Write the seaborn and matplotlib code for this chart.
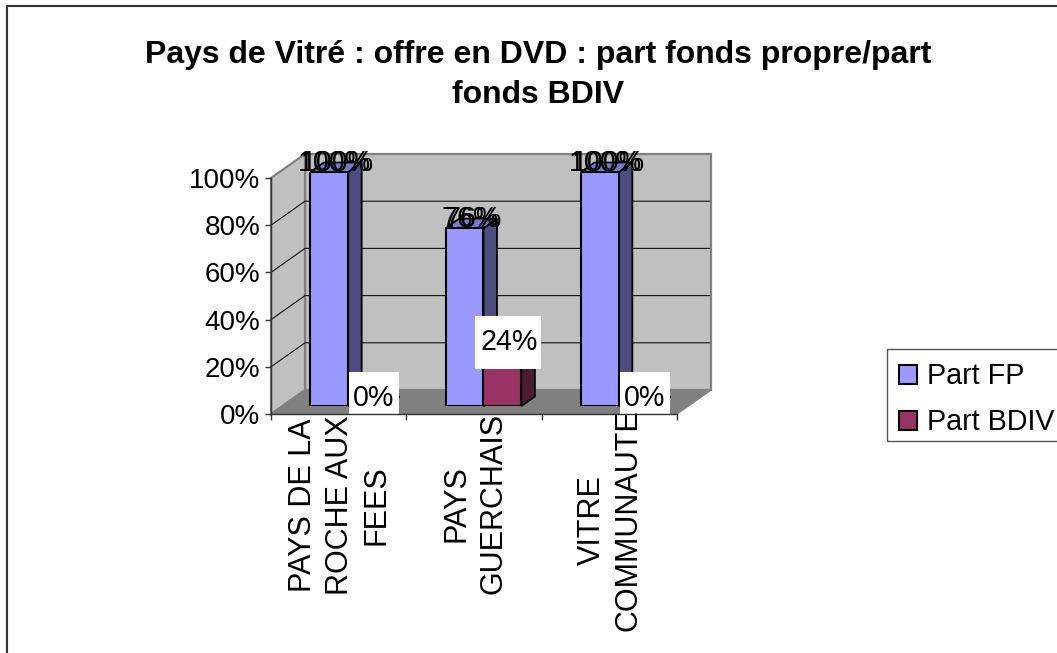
import matplotlib
matplotlib.use("Agg")
import matplotlib.pyplot as plt
import pandas as pd
import seaborn as sns
from matplotlib.lines import Line2D
from matplotlib.patches import Polygon, Rectangle
from matplotlib.transforms import IdentityTransform

# ---- data ----
territoires = ["PAYS DE LA\nROCHE AUX\nFEES", "PAYS\nGUERCHAIS", "VITRE\nCOMMUNAUTE"]
part_fp = [100, 76, 100]
part_bdiv = [0, 24, 0]
series_names = ["Part FP", "Part BDIV"]
y_ticks = [0, 20, 40, 60, 80, 100]
y_tick_labels = ["0%", "20%", "40%", "60%", "80%", "100%"]
title_text = "Pays de Vitré : offre en DVD : part fonds propre/part\nfonds BDIV"

# ---- style ----
W, H = 1057, 653
FP, BD = "#9999FF", "#993366"
SIDE = {FP: "#4D4D80", BD: "#4D1A33"}
TOP = {FP: "#7A7ACC", BD: "#7A2952"}

sns.set_theme(style="white")
plt.rcParams["font.family"] = ["Liberation Sans", "DejaVu Sans"]
fig = plt.figure(figsize=(W / 100, H / 100), dpi=100, facecolor="white")


def box(x0, y_top, x1, y_bot):
    return [x0 / W, 1 - y_bot / H, (x1 - x0) / W, (y_bot - y_top) / H]


pos = box(271, 178, 677, 414)
ax_wall = fig.add_axes(pos, zorder=1)
ax_bars = fig.add_axes(box(280.5, 172, 686.5, 406), zorder=2)
ax = fig.add_axes(pos, zorder=3)

# ---- walls and floor ----
xlim = (-0.5, 2.5)
ylim = (0, 100)
DX = 34 / (406 / 3)
DY = 24 / 2.36
x0, x1 = xlim
ax_wall.set(xlim=xlim, ylim=ylim)
ax_wall.axis("off")
wall_edge = "#808080"
ax_wall.add_patch(Polygon([(x0 + DX, DY), (x1 + DX, DY), (x1 + DX, 100 + DY), (x0 + DX, 100 + DY)],
                          fc="#C0C0C0", ec=wall_edge, lw=1.6, clip_on=False, zorder=1))
ax_wall.add_patch(Polygon([(x0, 0), (x0 + DX, DY), (x0 + DX, 100 + DY), (x0, 100)],
                          fc="#C0C0C0", ec=wall_edge, lw=1.6, clip_on=False, zorder=1))
ax_wall.add_patch(Polygon([(x0, 0), (x1, 0), (x1 + DX, DY), (x0 + DX, DY)],
                          fc="#808080", ec=wall_edge, lw=1, clip_on=False, zorder=1.1))
for v in y_ticks[1:-1]:
    ax_wall.plot([x0, x0 + DX, x1 + DX - 0.01], [v, v + DY, v + DY], color="#111111", lw=0.8,
                 clip_on=False, zorder=2)

# ---- bars ----
df = pd.DataFrame({
    "territoire": territoires * 2,
    "serie": [series_names[0]] * 3 + [series_names[1]] * 3,
    "part": part_fp + part_bdiv,
})
sns.barplot(data=df, x="territoire", y="part", hue="serie", order=territoires,
            hue_order=series_names, palette=[FP, BD], width=0.56, gap=0, dodge=True,
            saturation=1, edgecolor="black", linewidth=1.5, ax=ax_bars, legend=True)
ax_bars.set(xlim=xlim, ylim=ylim)
handles, labels = ax_bars.get_legend_handles_labels()
ax_bars.get_legend().remove()
ax_bars.axis("off")

BDX = 13.5 / (406 / 3)
BDY = 9.5 / 2.34
for cont, color in zip(ax_bars.containers, [FP, BD]):
    for bar in cont:
        bx, bw, bh = bar.get_x(), bar.get_width(), bar.get_height()
        xr = bx + bw
        ax_bars.add_patch(Polygon([(xr, 0), (xr + BDX, BDY), (xr + BDX, bh + BDY), (xr, bh)],
                                  fc=SIDE[color], ec="black", lw=1.3, clip_on=False, zorder=0.8))
        ax_bars.add_patch(Polygon([(bx, bh), (xr, bh), (xr + BDX, bh + BDY), (bx + BDX, bh + BDY)],
                                  fc=TOP[color], ec="black", lw=1.3, clip_on=False, zorder=0.8))

# ---- value labels ----
FS_LABEL = 20.6
for cont, values, boxed in zip(ax_bars.containers, [part_fp, part_bdiv], [False, True]):
    for bar, v in zip(cont, values):
        cx, top = bar.get_x() + bar.get_width() / 2, bar.get_height()
        px, py = ax_bars.transData.transform((cx, top))
        txt = f"{v}%"
        if boxed:
            left, right = (-27, 39) if v else (-18, 32)
            down, up = (19, 34) if v else (8, 34)
            ax_bars.add_patch(Rectangle((px + left, py - down), right - left, up + down, fc="white", ec="none",
                                        transform=IdentityTransform(), clip_on=False, zorder=5))
            ax_bars.annotate(txt, (cx, top), xytext=(6.5, 8), textcoords="offset pixels",
                             ha="center", va="center", fontsize=FS_LABEL, color="black", zorder=6)
        else:
            for shift in (-1.5, 1.5):
                ax_bars.annotate(txt, (cx, top), xytext=(6.7 + shift, 9), textcoords="offset pixels",
                                 ha="center", va="center", fontsize=FS_LABEL, color="black", zorder=6)

# ---- axes on top ----
ax.set_facecolor("none")
ax.set(xlim=xlim, ylim=ylim)
ax.set_xticks([-0.5, 0.5, 1.5, 2.5])
ax.set_xticklabels(["", "", "", ""])
ax.set_yticks(y_ticks)
ax.set_yticklabels(y_tick_labels, fontsize=20, color="black")
ax.tick_params(axis="y", left=True, length=4, width=1, color="#333333", pad=3.5)
ax.tick_params(axis="x", bottom=True, length=4.5, width=1, color="#333333")
for name, sp in ax.spines.items():
    sp.set_visible(name in ("left", "bottom"))
    sp.set_color("#333333")
    sp.set_linewidth(1)
for i, lab in enumerate(territoires):
    ax.annotate(lab, (i, 0), xytext=(1, -[1, -1, -5][i]), textcoords="offset pixels",
                ha="center", va="top", rotation=90, rotation_mode="default", multialignment="center",
                fontsize=22, linespacing=1.3, color="black", annotation_clip=False)

# ---- title, legend, frame ----
fig.suptitle(title_text, x=538.5 / W, y=1 - 40 / H, va="top", ha="center",
             fontsize=23, fontweight="bold", linespacing=1.44, color="black")
fig.add_artist(Rectangle((887 / W, 1 - 441 / H), 180 / W, 92 / H, transform=fig.transFigure,
                         fc="white", ec="#555555", lw=1))
leg = fig.legend(handles, labels, loc="upper left", bbox_to_anchor=(887 / W, 1 - 351 / H),
                 borderaxespad=0, fontsize=20.7, frameon=False, labelcolor="black",
                 handlelength=0.66, handleheight=0.66, handletextpad=0.32,
                 borderpad=0.4, labelspacing=0.62)
leg.set_zorder(5)
fig.add_artist(Line2D([7 / W, 7 / W], [0, 1 - 6 / H], color="#333333", lw=1.5))
fig.add_artist(Line2D([7 / W, 1], [1 - 6 / H, 1 - 6 / H], color="#333333", lw=1.5))

fig.savefig("out.png", dpi=100)
